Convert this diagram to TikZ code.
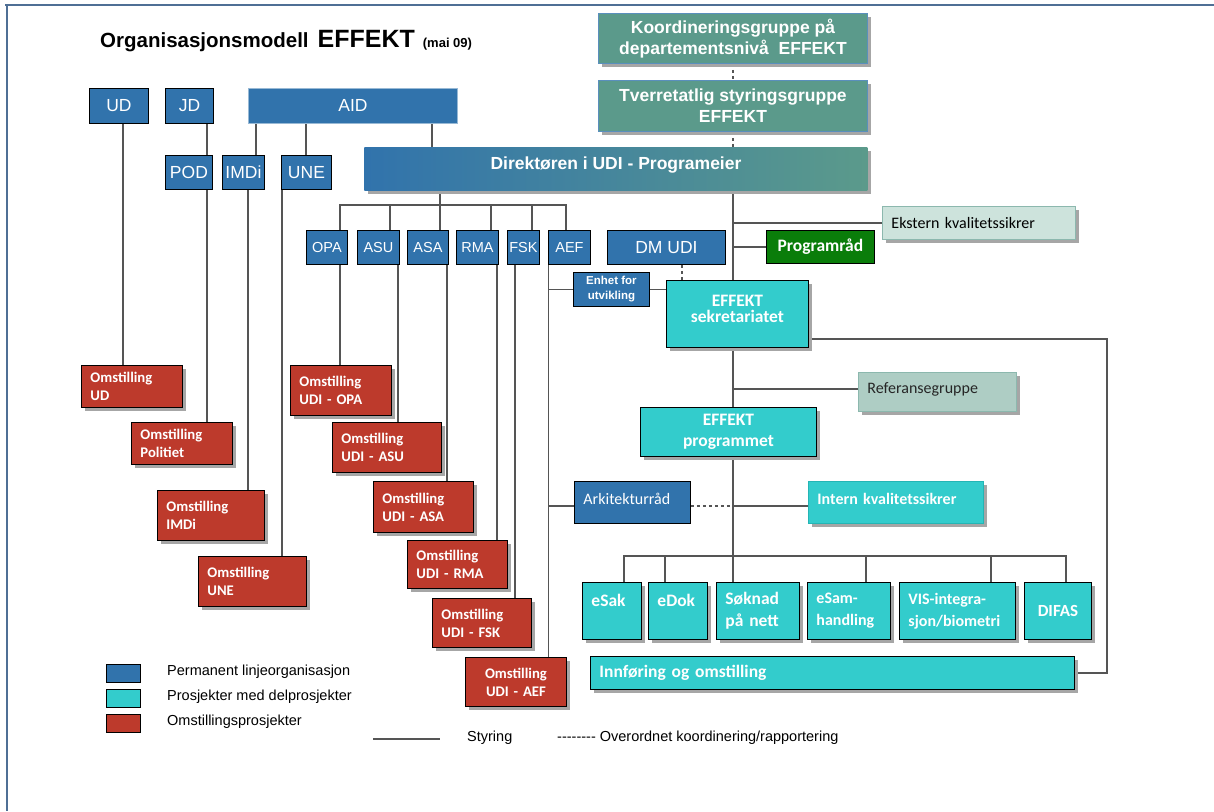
\documentclass[tikz,border=0pt]{standalone}
\usepackage{fontspec}
\setmainfont{Liberation Sans}
\newfontfamily\calib{Carlito}
\usetikzlibrary{shadows}
\pgfdeclarelayer{bg}
\pgfsetlayers{bg,main}
\definecolor{ublue}{HTML}{3173AC}
\definecolor{ucyan}{HTML}{33CCCC}
\definecolor{ured}{HTML}{BD3A2C}
\definecolor{uteal}{HTML}{5B9A8B}
\definecolor{ugreen}{HTML}{0A7D0A}
\definecolor{ulight}{HTML}{CDE3DC}
\definecolor{uref}{HTML}{AECDC4}
\definecolor{uframe}{HTML}{4F6F95}
\definecolor{uline}{HTML}{555555}
\newcommand\bx[7]{%
  \pgfmathsetmacro\bxw{#5-#3}%
  \pgfmathsetmacro\bxh{#6-#4}%
  \pgfmathsetmacro\bxt{#5-#3-18}%
  \node[#2,anchor=north west,minimum width=\bxw pt,minimum height=\bxh pt] (#1) at (#3,#4) {#7};}
\newcommand\up[2]{\raisebox{#1}[\height][\depth]{#2}}
\tikzset{
  box/.style={inner sep=0pt,line width=0.9pt},
  shd/.style={drop shadow={shadow xshift=3.5pt,shadow yshift=-3.5pt,fill=black!35,opacity=1}},
  lft/.style={align=left,text width=\bxt pt,inner xsep=9pt},
  topbox/.style={box,shd,fill=uteal,draw=ublue!80,text=white,align=center,
    font=\bfseries\fontsize{17.5}{21}\selectfont},
  dirbox/.style={box,shd,left color=ublue,right color=uteal,text=white,
    font=\bfseries\fontsize{17.5}{21}\selectfont},
  dept/.style={box,fill=ublue,draw=black,text=white,font=\fontsize{17.5}{21}\selectfont},
  unit/.style={box,fill=ublue,draw=black,text=white,font=\fontsize{14.5}{17}\selectfont},
  enhetbox/.style={box,fill=ublue,draw=black,text=white,align=center,
    font=\bfseries\fontsize{11.5}{15}\selectfont},
  redbox/.style={box,shd,lft,fill=ured,draw=black,text=white,
    font=\calib\bfseries\fontsize{14.7}{18}\selectfont},
  cyanbox/.style={box,shd,fill=ucyan,draw=black,text=white,align=center,
    font=\calib\bfseries\fontsize{17.5}{21}\selectfont},
  subbox/.style={box,shd,lft,fill=ucyan,draw=black,text=white,
    font=\calib\bfseries\fontsize{17.5}{22}\selectfont},
  innfbox/.style={box,shd,lft,fill=ucyan,draw=black,text=white,
    font=\calib\bfseries\fontsize{17.5}{21}\selectfont},
  internbox/.style={box,shd,lft,fill=ucyan,draw=ucyan!70!teal,text=white,
    font=\calib\bfseries\fontsize{16}{19}\selectfont},
  arkbox/.style={box,lft,fill=ublue,draw=black,text=white,
    font=\calib\fontsize{16}{19}\selectfont},
  extbox/.style={box,shd,lft,fill=ulight,draw=uteal!70,text=black,
    font=\calib\fontsize{16}{19}\selectfont},
  refbox/.style={box,shd,lft,fill=uref,draw=uteal!70,text=black!85,
    font=\calib\fontsize{16}{19}\selectfont},
  greenbox/.style={box,fill=ugreen,draw=black,text=white,
    font=\calib\bfseries\fontsize{17.5}{21}\selectfont},
  legsq/.style={box,draw=black,minimum width=34pt,minimum height=18pt,anchor=north west},
  legtxt/.style={anchor=west,inner sep=0pt,font=\fontsize{14.5}{17}\selectfont},
  ln/.style={draw=uline,line width=1.2pt},
  dl/.style={draw=uline,line width=1.2pt,dash pattern=on 3pt off 3pt},
}
\begin{document}
\begin{tikzpicture}[x=1pt,y=-1pt]
\useasboundingbox (0,0) rectangle (1214,811);
% frame
\draw[uframe,line width=1.5pt] (5,5) -- (1214,5);
\draw[uframe,line width=1.5pt] (7,5) -- (7,811);
% title
\node[anchor=base west,inner sep=0pt,font=\bfseries\fontsize{20.5}{24}\selectfont] (title) at (100,47)
  {Organisasjonsmodell\hspace{9pt}{\fontsize{25}{28}\selectfont EFFEKT}\hspace{8pt}{\fontsize{13}{15}\selectfont (mai 09)}};

\bx{koord}{topbox}{598}{13}{867}{63}{Koordineringsgruppe på\\departementsnivå~~EFFEKT}
\bx{tverr}{topbox}{598}{80}{867}{131}{Tverretatlig styringsgruppe\\EFFEKT}

\coordinate (br) at (440,205);
\coordinate (pj) at (733,506);
\coordinate (sb) at (733,556);

\bx{dir}{dirbox}{364}{147}{867}{190}{\up{3.5pt}{Direktøren i UDI - Programeier}}
\bx{ud}{dept}{89}{88}{148}{123}{UD}
\bx{jd}{dept}{165}{88}{213}{123}{JD}
\bx{aid}{dept,draw=ublue!50!white}{248}{88}{457}{123}{AID}
\bx{pod}{dept}{165}{155}{212}{189}{POD}
\bx{imdi}{dept}{222}{155}{264}{189}{IMDi}
\bx{une}{dept}{281}{155}{331}{189}{UNE}

\bx{opa}{unit}{306}{230}{347}{264}{OPA}
\bx{asu}{unit}{357}{230}{399}{264}{ASU}
\bx{asa}{unit}{407}{230}{448}{264}{ASA}
\bx{rma}{unit}{456}{230}{498}{264}{RMA}
\bx{fsk}{unit}{507}{230}{539}{264}{FSK}
\bx{aef}{unit}{548}{230}{590}{264}{AEF}
\bx{dmudi}{dept}{607}{230}{725}{264}{DM UDI}
\bx{enhet}{enhetbox}{573}{272}{649}{306}{Enhet for\\utvikling}
\bx{sek}{cyanbox}{666}{280}{808}{347}{\up{5pt}{\shortstack{EFFEKT\\[1pt]sekretariatet}}}
\bx{prog}{cyanbox}{640}{407}{816}{456}{EFFEKT\\programmet}

% red boxes
\bx{oud}{redbox}{81}{365}{182}{407}{Omstilling\\UD}
\bx{opol}{redbox}{131}{422}{232}{464}{Omstilling\\Politiet}
\bx{oimdi}{redbox}{157}{490}{264}{540}{Omstilling\\IMDi}
\bx{oune}{redbox}{198}{556}{306}{606}{Omstilling\\UNE}
\bx{oopa}{redbox}{290}{365}{391}{415}{Omstilling\\UDI - OPA}
\bx{oasu}{redbox}{332}{422}{441}{472}{Omstilling\\UDI - ASU}
\bx{oasa}{redbox}{373}{481}{473}{532}{Omstilling\\UDI - ASA}
\bx{orma}{redbox}{407}{540}{507}{588}{Omstilling\\UDI - RMA}
\bx{ofsk}{redbox}{432}{598}{531}{647}{Omstilling\\UDI - FSK}
\bx{oaef}{redbox,align=center}{465}{657}{566}{706}{Omstilling\\UDI - AEF}

% right side
\bx{ekstern}{extbox}{882}{206}{1075}{239}{Ekstern kvalitetssikrer}
\bx{prograad}{greenbox}{766}{230}{874}{263}{Programråd}
\bx{ref}{refbox}{858}{372}{1016}{411}{\up{3pt}{Referansegruppe}}
\bx{ark}{arkbox}{574}{481}{690}{523}{\up{4pt}{Arkitekturråd}}
\bx{intern}{internbox}{808}{481}{983}{523}{\up{4pt}{Intern kvalitetssikrer}}

% sub projects
\bx{esak}{subbox}{582}{582}{641}{639}{eSak\\\mbox{}}
\bx{edok}{subbox}{648}{582}{707}{639}{eDok\\\mbox{}}
\bx{soknad}{subbox}{716}{582}{799}{639}{Søknad\\på nett}
\bx{esam}{subbox,font=\calib\bfseries\fontsize{16}{22}\selectfont}{807}{582}{890}{639}{eSam-\\handling}
\bx{vis}{subbox,font=\calib\bfseries\fontsize{16}{22}\selectfont}{899}{582}{1015}{639}{VIS-integra-\\sjon/biometri}
\bx{difas}{subbox,align=center,font=\calib\bfseries\fontsize{17}{21}\selectfont}{1024}{582}{1091}{639}{DIFAS}
\bx{innf}{innfbox}{590}{656}{1074}{689}{Innføring og omstilling}

% connectors
\begin{pgfonlayer}{bg}
\draw[dl] (koord.south -| 733,0) -- (tverr.north -| 733,0);
\draw[dl] (tverr.south -| 733,0) -- (dir.north -| 733,0);
\draw[ln] (ud.south -| 123,0) -- (oud.north -| 123,0);
\draw[ln] (jd.south -| 207,0) -- (pod.north -| 207,0);
\draw[ln] (pod.south -| 207,0) -- (opol.north -| 207,0);
\draw[ln] (aid.south -| 256,0) -- (imdi.north -| 256,0);
\draw[ln] (aid.south -| 306,0) -- (une.north -| 306,0);
\draw[ln] (aid.south -| 432,0) -- (dir.north -| 432,0);
\draw[ln] (imdi.south -| 248,0) -- (oimdi.north -| 248,0);
\draw[ln] (une.south -| 282,0) -- (oune.north -| 282,0);
\draw[ln] (dir.south -| 440,0) -- (asa.north -| 440,0);
\draw[ln] (opa.north -| 340,0) |- (br);
\draw[ln] (asu.north -| 390,0) |- (br);
\draw[ln] (rma.north -| 491,0) |- (br);
\draw[ln] (fsk.north -| 532,0) |- (br);
\draw[ln] (aef.north -| 566,0) |- (br);
\draw[ln] (opa.south -| 340,0) -- (oopa.north -| 340,0);
\draw[ln] (asu.south -| 398,0) -- (oasu.north -| 398,0);
\draw[ln] (asa.south -| 447,0) -- (oasa.north -| 447,0);
\draw[ln] (rma.south -| 497,0) -- (orma.north -| 497,0);
\draw[ln] (fsk.south -| 515,0) -- (ofsk.north -| 515,0);
\draw[ln] (aef.south -| 548.5,0) -- (oaef.north -| 548.5,0);
\draw[ln] (aef.south -| 548.5,0) |- (enhet.west);
\draw[ln] (enhet.east) -- (sek.west |- enhet.east);
\draw[dl] (dmudi.south -| 682,0) -- (sek.north -| 682,0);
\draw[ln] (dir.south -| 733,0) -- (soknad.north -| 733,0);
\draw[ln] (ekstern.west) -- (ekstern.west -| 733,0);
\draw[ln] (prograad.west) -- (prograad.west -| 733,0);
\draw[ln] (ref.west |- 0,389) -- (733,389);
\draw[ln] (ark.west |- pj) -- (548.5,506);
\draw[dl] (ark.east |- pj) -- (pj);
\draw[ln] (pj) -- (intern.west |- pj);
\draw[ln] (esak.north -| 624,0) |- (sb);
\draw[ln] (edok.north -| 665,0) |- (sb);
\draw[ln] (esam.north -| 866,0) |- (sb);
\draw[ln] (vis.north -| 991,0) |- (sb);
\draw[ln] (difas.north -| 1066,0) |- (sb);
\draw[ln] (sek.east |- 0,339) -- (1107,339) -- (1107,673) -- (innf.east |- 0,673);
\end{pgfonlayer}

% legend
\node[legsq,fill=ublue] (lg1) at (106,664) {};
\node[legsq,fill=ucyan] (lg2) at (106,689) {};
\node[legsq,fill=ured] (lg3) at (106,714) {};
\node[legtxt] (lt1) at (167,672) {Permanent linjeorganisasjon};
\node[legtxt] (lt2) at (167,697) {Prosjekter med delprosjekter};
\node[legtxt] (lt3) at (167,722) {Omstillingsprosjekter};
\coordinate (s1) at (373,739);
\coordinate (s2) at (440,739);
\draw[ln] (s1) -- (s2);
\node[legtxt] (lt4) at (467,738) {Styring};
\node[legtxt] (lt5) at (557,738) {-{}-{}-{}-{}-{}-{}-{}- Overordnet koordinering/rapportering};
\end{tikzpicture}
\end{document}
